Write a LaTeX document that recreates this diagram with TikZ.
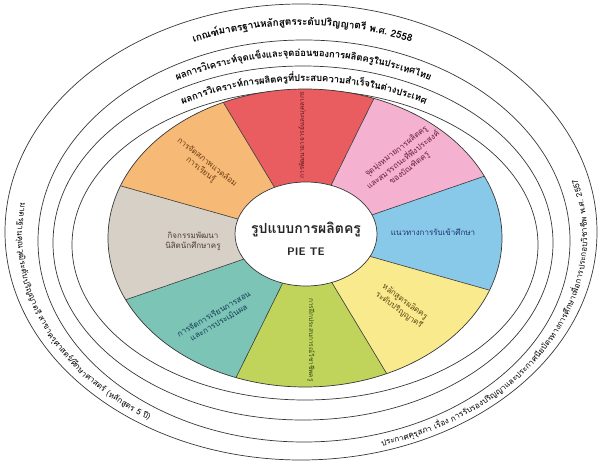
\documentclass[tikz,border=0pt]{standalone}
\usepackage{fontspec}
\newfontfamily\thaifont[Script=Thai]{Loma}
\usetikzlibrary{decorations.text}

\definecolor{secred}{RGB}{233,92,96}
\definecolor{secpink}{RGB}{244,178,208}
\definecolor{secblue}{RGB}{136,200,232}
\definecolor{secyellow}{RGB}{250,234,142}
\definecolor{secgreen}{RGB}{192,212,92}
\definecolor{secteal}{RGB}{124,196,182}
\definecolor{secgray}{RGB}{214,208,198}
\definecolor{secorange}{RGB}{246,186,118}
\definecolor{edge}{RGB}{55,55,55}
\definecolor{inkred}{RGB}{90,25,25}
\definecolor{inkpink}{RGB}{105,30,60}
\definecolor{inkblue}{RGB}{30,50,110}
\definecolor{inkyellow}{RGB}{95,70,20}
\definecolor{inkgreen}{RGB}{50,70,20}
\definecolor{inkteal}{RGB}{20,60,85}
\definecolor{inkgray}{RGB}{80,60,50}
\definecolor{inkorange}{RGB}{110,60,20}

\tikzset{
  ring/.style={draw=edge, line width=0.7pt},
  sectxt/.style={font=\thaifont\fontsize{8}{10}\selectfont, align=center},
  bandtxt/.style={decorate, decoration={text along path, text align=center, raise=-3.5pt}},
}

\begin{document}
\begin{tikzpicture}[x=1pt,y=1pt]
\useasboundingbox (0,0) rectangle (599,461);
% outer rings
\draw[ring] (301,229) ellipse [x radius=296, y radius=228];
\draw[ring] (304,220) ellipse [x radius=266, y radius=201];
\draw[ring] (303,218) ellipse [x radius=250, y radius=177];
\draw[ring] (305,216) ellipse [x radius=233, y radius=155];

% wheel
\foreach \a/\c [evaluate=\a as \s using \a-20.5, evaluate=\a as \e using \a+24.5] in
  {90/secred,45/secpink,0/secblue,-45/secyellow,-90/secgreen,-135/secteal,180/secgray,135/secorange}
  \fill[\c] (305,223) -- ([shift={(305,223)}]\s:197 and 149)
    arc[start angle=\s, end angle=\e, x radius=197, y radius=149] -- cycle;
\foreach \a in {24.5,69.5,...,339.5}
  \draw[edge, line width=0.6pt] (305,223) -- ([shift={(305,223)}]\a:197 and 149);
\draw[ring] (305,223) ellipse [x radius=197, y radius=149];
\draw[ring, fill=white] (306,227) ellipse [x radius=71, y radius=52];

% centre
\node[font=\thaifont\bfseries\fontsize{14}{16}\selectfont, text=black!85] (title) at (306,232) {รูปแบบการผลิตครู};
\node[font=\sffamily\bfseries\fontsize{11}{13}\selectfont, text=black!85] (pie) at (306,209) {PIE TE};

% sector labels
\node[sectxt, text=inkred, rotate=90, font=\thaifont\fontsize{6.5}{7}\selectfont] (s1) at (302,326) {การพัฒนาอาจารย์และบุคลากร};
\node[sectxt, text=inkpink, rotate=38] (s2) at (403,301) {จุดมุ่งหมายการผลิตครู\\และสมรรถนะที่พึงประสงค์\\ของบัณฑิตครู};
\node[sectxt, text=inkblue] (s3) at (433,229) {แนวทางการรับเข้าศึกษา};
\node[sectxt, text=inkyellow, rotate=-36] (s4) at (402,155) {หลักสูตรผลิตครู\\ระดับปริญญาตรี};
\node[sectxt, text=inkgreen, rotate=-90, font=\thaifont\fontsize{6.5}{7}\selectfont] (s5) at (311,121) {การฝึกประสบการณ์วิชาชีพครู};
\node[sectxt, text=inkteal, rotate=30] (s6) at (216,143) {การจัดการเรียนการสอน\\และการประเมินผล};
\node[sectxt, text=inkgray] (s7) at (193,220) {กิจกรรมพัฒนา\\นิสิตนักศึกษาครู};
\node[sectxt, text=inkorange, rotate=-38] (s8) at (204,295) {การจัดสภาพแวดล้อม\\การเรียนรู้};

% band texts
\path[bandtxt, decoration={text={|\thaifont\bfseries\fontsize{10}{10}\selectfont|{เกณฑ์}{มาตรฐาน}{หลักสูตร}{ระดับ}{ปริญญาตรี} {พ.ศ.} {2558}}}]
  ([shift={(302.5,224.5)}]160:281 and 214.5) arc[start angle=160, end angle=20, x radius=281, y radius=214.5];
\path[bandtxt, decoration={text={|\thaifont\bfseries\fontsize{9.5}{10}\selectfont|{ผลการ}{วิเคราะห์}{จุดแข็ง}{และ}{จุดอ่อน}{ของ}{การ}{ผลิต}{ครู}{ใน}{ประเทศ}{ไทย}}}]
  ([shift={(303.5,219)}]160:258 and 189) arc[start angle=160, end angle=20, x radius=258, y radius=189];
\path[bandtxt, decoration={text={|\thaifont\bfseries\fontsize{9.5}{10}\selectfont|{ผลการ}{วิเคราะห์}{การ}{ผลิต}{ครู}{ที่}{ประสบ}{ความ}{สำเร็จ}{ใน}{ต่าง}{ประเทศ}}}]
  ([shift={(304,217)}]160:241.5 and 166) arc[start angle=160, end angle=20, x radius=241.5, y radius=166];
\path[bandtxt, decoration={text={|\thaifont\fontsize{8}{8}\selectfont|{มาตรฐาน}{คุณวุฒิ}{ระดับ}{ปริญญาตรี} {สาขา}{ครุศาสตร์/ศึกษา}{ศาสตร์} {(หลักสูตร} {5} {ปี)}}}]
  ([shift={(302.5,224.5)}]170:281 and 214.5) arc[start angle=170, end angle=238, x radius=281, y radius=214.5];
\path[bandtxt, decoration={text={|\thaifont\fontsize{8}{8}\selectfont|{ประกาศ}{คุรุสภา} {เรื่อง} {การ}{รับรอง}{ปริญญา}{และ}{ประกาศ}{นียบัตร}{ทาง}{การ}{ศึกษา}{เพื่อ}{การ}{ประกอบ}{วิชาชีพ} {พ.ศ.} {2557}}}]
  ([shift={(302.5,224.5)}]-76:281 and 214.5) arc[start angle=-76, end angle=18, x radius=281, y radius=214.5];
\end{tikzpicture}
\end{document}
